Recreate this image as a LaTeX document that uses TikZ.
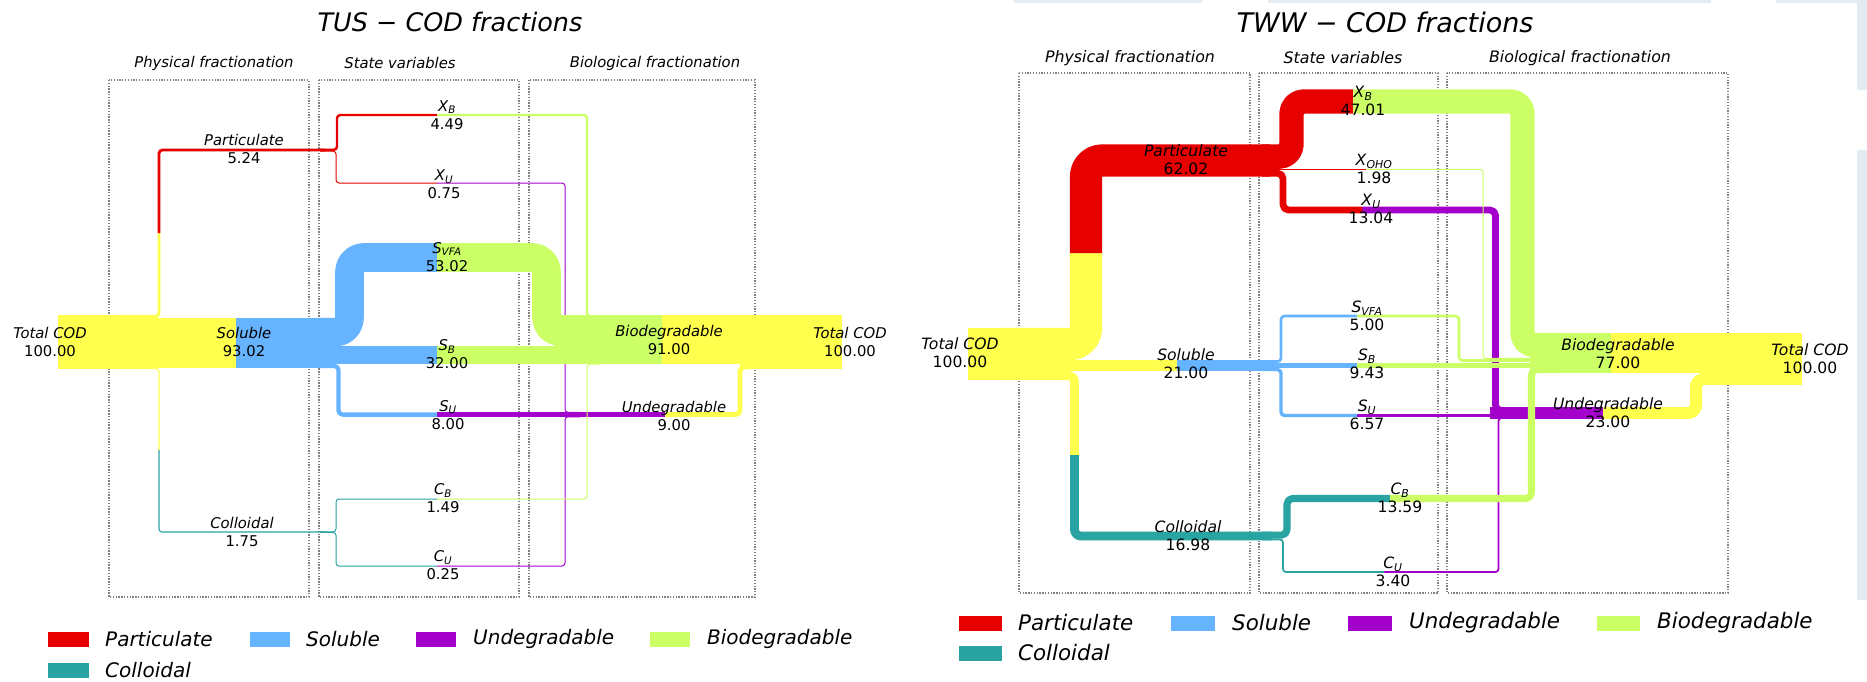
\documentclass[tikz,border=0pt]{standalone}
\usepackage{fontspec}
\setmainfont{DejaVu Sans}
\usetikzlibrary{positioning}

\definecolor{partcol}{RGB}{230,0,0}
\definecolor{solcol}{RGB}{102,179,255}
\definecolor{undcol}{RGB}{163,0,204}
\definecolor{biocol}{RGB}{204,255,102}
\definecolor{colcol}{RGB}{42,163,163}
\definecolor{totcol}{RGB}{255,255,77}
\definecolor{panecol}{RGB}{227,236,240}
\definecolor{boxcol}{RGB}{130,130,130}

\newcommand{\stvar}[2]{\textit{#1}\textsubscript{\textit{#2}}}

\tikzstyle{band} = [line cap=butt, line join=round]
\tikzstyle{dotbox} = [draw=boxcol, line width=1.3pt, dash pattern=on 1.3pt off 1.5pt]
\tikzstyle{lbl} = [align=center, inner sep=0pt, font=\fontsize{14.8}{18}\selectfont]
\tikzstyle{rlbl} = [align=center, inner sep=0pt, font=\fontsize{15.6}{18}\selectfont]
\tikzstyle{head} = [inner sep=0pt, font=\fontsize{14.8}{18}\selectfont\itshape]
\tikzstyle{rhead} = [inner sep=0pt, font=\fontsize{15.8}{18}\selectfont\itshape]
\tikzstyle{legtext} = [anchor=west, inner sep=0pt, font=\fontsize{20}{24}\selectfont\itshape]
\tikzstyle{rlegtext} = [anchor=west, inner sep=0pt, font=\fontsize{21.4}{24}\selectfont\itshape]

\begin{document}
\begin{tikzpicture}[x=1pt,y=-1pt]
\useasboundingbox (0,0) rectangle (1867,681);

% window remains on the right
\fill[panecol] (1014,0) rectangle (1202,3);
\fill[panecol] (1268,0) rectangle (1711,3);
\fill[panecol] (1776,0) rectangle (1867,3);
\fill[panecol] (1857,0) rectangle (1867,90);
\fill[panecol] (1857,150) rectangle (1867,600);

%%%%%%%%%%%%%%%% TUS %%%%%%%%%%%%%%%%
\node (tusTitle) at (450,22) [inner sep=0pt, font=\fontsize{25.5}{28}\selectfont\itshape] {TUS − COD fractions};
\node (tusPhys) at (214,63) [head] {Physical fractionation};
\node (tusState) at (400,63) [head] {State variables};
\node (tusBio) at (655,63) [head] {Biological fractionation};

\draw[dotbox] (109,80) rectangle (309,597);
\draw[dotbox] (319,80) rectangle (519,597);
\draw[dotbox] (529,80) rectangle (755,597);

% undegradable parts first
\draw[band, undcol, line width=1pt, rounded corners=3pt] (437,183) -- (565,183) -- (565,412.3) -- (580,412.3);
\draw[band, undcol, line width=1pt, rounded corners=3pt] (437,566) -- (565,566) -- (565,416.8) -- (580,416.8);
\draw[band, undcol, line width=4.32pt] (437,414.6) -- (580,414.6);
\draw[band, undcol, line width=4.86pt] (575,414.6) -- (665,414.6);
\draw[band, totcol, line width=4.86pt, rounded corners=4.4pt] (665,414.6) -- (740,414.6) -- (740,366.9) -- (750,366.9);

% inflow
\fill[totcol] (58,315) rectangle (158,369);
\draw[band, totcol, line width=2.83pt, rounded corners=3.4pt] (120,316.4) -- (159,316.4) -- (159,233);
\draw[band, partcol, line width=2.83pt, rounded corners=3.4pt] (159,233) -- (159,150) -- (325,150);
\draw[band, totcol, line width=1.1pt, rounded corners=3pt] (120,368.5) -- (159,368.5) -- (159,450);
\draw[band, colcol, line width=1.1pt, rounded corners=3pt] (159,450) -- (159,532) -- (325,532);
\draw[band, totcol, line width=50.2pt] (150,342.9) -- (236,342.9);
\draw[band, solcol, line width=50.2pt] (236,342.9) -- (330,342.9);

% state variables
\draw[band, partcol, line width=2.42pt, rounded corners=3.2pt] (320,149.8) -- (337,149.8) -- (337,115) -- (437,115);
\draw[band, partcol, line width=1pt, rounded corners=3pt] (320,151.2) -- (336,151.2) -- (336,183) -- (437,183);
\draw[band, solcol, line width=28.6pt, rounded corners=14.3pt] (320,332.1) -- (349.5,332.1) -- (349.5,257.5) -- (437,257.5);
\draw[band, solcol, line width=17.3pt] (325,355.1) -- (437,355.1);
\draw[band, solcol, line width=4.32pt, rounded corners=4.2pt] (320,365.9) -- (338.5,365.9) -- (338.5,414.6) -- (437,414.6);
\draw[band, colcol, line width=1pt, rounded corners=3pt] (320,531.9) -- (336,531.9) -- (336,499) -- (437,499);
\draw[band, colcol, line width=1pt, rounded corners=3pt] (320,532.4) -- (336,532.4) -- (336,566) -- (437,566);

% biodegradable parts
\draw[band, biocol, line width=28.6pt, rounded corners=14.3pt] (437,257.5) -- (546.5,257.5) -- (546.5,331.8) -- (600,331.8);
\draw[band, biocol, line width=17.3pt] (437,355.1) -- (600,355.1);
\draw[band, biocol, line width=49.1pt] (555,339.85) -- (662,339.85);
\draw[band, totcol, line width=49.1pt] (662,339.85) -- (745,339.85);
\draw[band, biocol, line width=2.42pt, rounded corners=3.2pt] (437,115) -- (587,115) -- (587,316.5) -- (600,316.5);
\draw[band, biocol, line width=1pt, rounded corners=3pt] (437,499) -- (587,499) -- (587,364) -- (600,364);
\fill[totcol] (740,315.3) rectangle (842,369.3);

\node (tusTotIn) [lbl] at (50,342) {\textit{Total COD}\\100.00};
\node (tusSol) [lbl] at (244,342) {\textit{Soluble}\\93.02};
\node (tusPart) [lbl] at (244,149) {\textit{Particulate}\\5.24};
\node (tusColl) [lbl] at (242,531.5) {\textit{Colloidal}\\1.75};
\node (tusXB) [lbl] at (447,115) {\stvar{X}{B}\\4.49};
\node (tusXU) [lbl] at (444,184.5) {\stvar{X}{U}\\0.75};
\node (tusSVFA) [lbl] at (447,257) {\stvar{S}{VFA}\\53.02};
\node (tusSB) [lbl] at (447,354.5) {\stvar{S}{B}\\32.00};
\node (tusSU) [lbl] at (448,415) {\stvar{S}{U}\\8.00};
\node (tusCB) [lbl] at (443,498.5) {\stvar{C}{B}\\1.49};
\node (tusCU) [lbl] at (443,565.5) {\stvar{C}{U}\\0.25};
\node (tusBiod) [lbl] at (669,340) {\textit{Biodegradable}\\91.00};
\node (tusUnd) [lbl] at (674,416) {\textit{Undegradable}\\9.00};
\node (tusTotOut) [lbl] at (850,342) {\textit{Total COD}\\100.00};

% legend
\fill[partcol] (48,631.5) rectangle (89,646.5);
\node (tusLegPart) [legtext] at (105,639) {Particulate};
\fill[solcol] (250,631.5) rectangle (290,646.5);
\node (tusLegSol) [legtext] at (306,639) {Soluble};
\fill[undcol] (416,631.5) rectangle (456,646.5);
\node (tusLegUnd) [legtext] at (473,639) {Undegradable};
\fill[biocol] (650,631.5) rectangle (690,646.5);
\node (tusLegBio) [legtext] at (707,639) {Biodegradable};
\fill[colcol] (48,662.5) rectangle (89,677.5);
\node (tusLegColl) [legtext] at (105,670) {Colloidal};

%%%%%%%%%%%%%%%% TWW %%%%%%%%%%%%%%%%
\node (twwTitle) at (1385,22) [inner sep=0pt, font=\fontsize{27}{30}\selectfont\itshape] {TWW − COD fractions};
\node (twwPhys) at (1130,58) [rhead] {Physical fractionation};
\node (twwState) at (1343,58) [rhead] {State variables};
\node (twwBio) at (1580,58) [rhead] {Biological fractionation};

\draw[dotbox] (1019,73) rectangle (1250,593);
\draw[dotbox] (1259,73) rectangle (1438,593);
\draw[dotbox] (1447,73) rectangle (1728,593);

% undegradable parts first
\draw[band, undcol, line width=6.78pt, rounded corners=5.4pt] (1362,210) -- (1495.5,210) -- (1495.5,410.4) -- (1560,410.4);
\draw[band, undcol, line width=1.77pt, rounded corners=3pt] (1384,572) -- (1498.5,572) -- (1498.5,418) -- (1560,418);
\draw[band, undcol, line width=3.42pt] (1357,415.5) -- (1560,415.5);
\draw[band, undcol, line width=11.96pt] (1490,413) -- (1603,413);
\draw[band, totcol, line width=11.96pt, rounded corners=8pt] (1603,413) -- (1696,413) -- (1696,379) -- (1710,379);

% inflow
\fill[totcol] (968,328) rectangle (1070,380);
\draw[band, totcol, line width=32.25pt, rounded corners=16.1pt] (1000,344.1) -- (1086,344.1) -- (1086,253);
\draw[band, partcol, line width=32.25pt, rounded corners=16.1pt] (1086,253) -- (1086,160.5) -- (1270,160.5);
\draw[band, totcol, line width=8.83pt, rounded corners=6.4pt] (1000,375.6) -- (1074.5,375.6) -- (1074.5,455);
\draw[band, colcol, line width=8.83pt, rounded corners=6.4pt] (1074.5,455) -- (1074.5,536) -- (1272,536);
\draw[band, totcol, line width=10.92pt] (1060,365.7) -- (1177,365.7);
\draw[band, solcol, line width=10.92pt] (1177,365.7) -- (1272,365.7);

% state variables
\draw[band, partcol, line width=24.45pt, rounded corners=12.2pt] (1262,156.6) -- (1291.5,156.6) -- (1291.5,101.5) -- (1353,101.5);
\draw[band, partcol, line width=1.03pt] (1262,169.3) -- (1366,169.3);
\draw[band, partcol, line width=6.78pt, rounded corners=5.4pt] (1262,173.2) -- (1283,173.2) -- (1283,210) -- (1362,210);
\draw[band, solcol, line width=2.6pt, rounded corners=3.3pt] (1262,361.5) -- (1281,361.5) -- (1281,316) -- (1357,316);
\draw[band, solcol, line width=4.9pt] (1262,365.3) -- (1357,365.3);
\draw[band, solcol, line width=3.42pt, rounded corners=3.7pt] (1262,369.5) -- (1281,369.5) -- (1281,415.5) -- (1357,415.5);
\draw[band, colcol, line width=7.07pt, rounded corners=5.5pt] (1262,535.1) -- (1287,535.1) -- (1287,498.5) -- (1390,498.5);
\draw[band, colcol, line width=1.77pt, rounded corners=3pt] (1262,539.5) -- (1283,539.5) -- (1283,572) -- (1384,572);

% biodegradable parts
\draw[band, biocol, line width=1.03pt, rounded corners=3pt] (1366,169.3) -- (1483,169.3) -- (1483,358.5) -- (1560,358.5);
\draw[band, biocol, line width=2.6pt, rounded corners=3.3pt] (1357,316) -- (1459,316) -- (1459,360.5) -- (1560,360.5);
\draw[band, biocol, line width=4.9pt] (1357,365.3) -- (1560,365.3);
\draw[band, biocol, line width=7.07pt, rounded corners=5.5pt] (1390,498.5) -- (1531.5,498.5) -- (1531.5,369.5) -- (1560,369.5);
\draw[band, biocol, line width=40pt] (1530,353) -- (1611,353);
\draw[band, totcol, line width=40pt] (1611,353) -- (1705,353);
\draw[band, biocol, line width=24.45pt, rounded corners=12.2pt] (1353,101.5) -- (1522.5,101.5) -- (1522.5,345.2) -- (1560,345.2);
\fill[totcol] (1700,333) rectangle (1802,385);

\node (twwTotIn) [rlbl] at (960,353) {\textit{Total COD}\\100.00};
\node (twwSol) [rlbl] at (1186,364) {\textit{Soluble}\\21.00};
\node (twwPart) [rlbl] at (1186,159.5) {\textit{Particulate}\\62.02};
\node (twwColl) [rlbl] at (1188,536) {\textit{Colloidal}\\16.98};
\node (twwXB) [rlbl] at (1363,101) {\stvar{X}{B}\\47.01};
\node (twwXOHO) [rlbl] at (1374,168.5) {\stvar{X}{OHO}\\1.98};
\node (twwXU) [rlbl] at (1371,209) {\stvar{X}{U}\\13.04};
\node (twwSVFA) [rlbl] at (1367,315.5) {\stvar{S}{VFA}\\5.00};
\node (twwSB) [rlbl] at (1367,364) {\stvar{S}{B}\\9.43};
\node (twwSU) [rlbl] at (1367,415) {\stvar{S}{U}\\6.57};
\node (twwCB) [rlbl] at (1400,497.5) {\stvar{C}{B}\\13.59};
\node (twwCU) [rlbl] at (1393,572) {\stvar{C}{U}\\3.40};
\node (twwBiod) [rlbl] at (1618,354) {\textit{Biodegradable}\\77.00};
\node (twwUnd) [rlbl] at (1608,412.5) {\textit{Undegradable}\\23.00};
\node (twwTotOut) [rlbl] at (1810,359) {\textit{Total COD}\\100.00};

% legend
\fill[partcol] (959,615.5) rectangle (1002,630.5);
\node (twwLegPart) [rlegtext] at (1018,623) {Particulate};
\fill[solcol] (1171,615.5) rectangle (1215,630.5);
\node (twwLegSol) [rlegtext] at (1232,623) {Soluble};
\fill[undcol] (1348,615.5) rectangle (1392,630.5);
\node (twwLegUnd) [rlegtext] at (1409,623) {Undegradable};
\fill[biocol] (1597,615.5) rectangle (1640,630.5);
\node (twwLegBio) [rlegtext] at (1657,623) {Biodegradable};
\fill[colcol] (959,645.5) rectangle (1002,660.5);
\node (twwLegColl) [rlegtext] at (1018,653) {Colloidal};

\end{tikzpicture}
\end{document}
